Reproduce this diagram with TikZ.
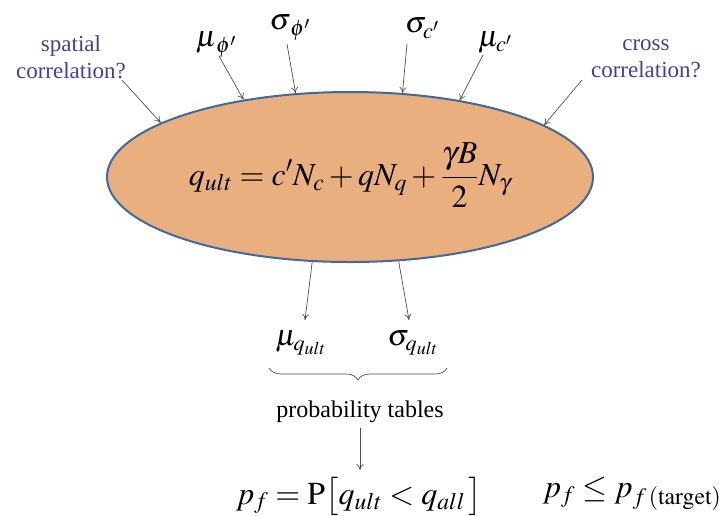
\documentclass[tikz,border=0pt]{standalone}
\usepackage{mathptmx}
\usepackage[no-math]{fontspec}
\newfontfamily\tnr{Liberation Serif}
\usetikzlibrary{shapes.geometric,arrows.meta,decorations.pathreplacing}
\definecolor{efill}{RGB}{233,175,127}
\definecolor{eline}{RGB}{65,105,156}
\definecolor{qblue}{RGB}{64,64,160}
\definecolor{arr}{RGB}{80,80,80}
\newcommand{\fs}[1]{\fontsize{#1}{#1}\selectfont}
\begin{document}
\begin{tikzpicture}[x=1pt,y=-1pt,
  conn/.style={draw=arr,line width=0.7pt,-{To[length=6pt,width=7pt]}},
  qtext/.style={text=qblue,align=center,font=\tnr\fontsize{23}{27}\selectfont,inner sep=0pt},
  glabel/.style={inner sep=0pt,font=\fs{30}}]
\useasboundingbox (0,0) rectangle (725,515);
% ellipse
\node[ellipse,draw=eline,line width=2pt,fill=efill,minimum width=486pt,minimum height=170pt,inner sep=0pt] (E) at (350,177) {};
\node[inner sep=0pt,font=\fs{32}] (F) at (350,175) {$\displaystyle q_{ult}=c'N_c+qN_q+\frac{\gamma B}{2}N_\gamma$};
% top labels
\node[qtext] (sp) at (71,57) {spatial\\correlation?};
\node[qtext] (cr) at (646,59) {cross\\correlation?};
\node[glabel] (muphi) at (216,45) {$\mu_{\,\phi'}$};
\node[glabel] (sgphi) at (290,28) {$\sigma_{\,\phi'}$};
\node[glabel] (sgc) at (422,28) {$\sigma_{c'}$};
\node[glabel] (muc) at (495,42) {$\mu_{c'}$};
% arrow starts
\coordinate (a1) at (122,80);
\coordinate (a2) at (219,56);
\coordinate (a3) at (287,44);
\coordinate (a4) at (407,44);
\coordinate (a5) at (483,55);
\coordinate (a6) at (582,80);
\draw[conn] (a1) -- (E.164.5);
\draw[conn] (a2) -- (E.144.5);
\draw[conn] (a3) -- (E.123.9);
\draw[conn] (a4) -- (E.58.6);
\draw[conn] (a5) -- (E.35);
\draw[conn] (a6) -- (E.15.4);
% bottom
\node[glabel] (muq) at (301,343) {$\mu_{q_{ult}}$};
\node[glabel] (sgq) at (413,343) {$\sigma_{q_{ult}}$};
\coordinate (b1) at (305,320);
\coordinate (b2) at (409,320);
\draw[conn] (E.246.6) -- (b1);
\draw[conn] (E.300.6) -- (b2);
\coordinate (brL) at (269,368);
\coordinate (brR) at (447,368);
\draw[arr,line width=0.7pt,decorate,decoration={brace,mirror,amplitude=12pt}] (brL) -- (brR);
\node[inner sep=0pt,font=\tnr\fs{24}] (pt) at (360,412) {probability tables};
\coordinate (c1) at (360,428);
\coordinate (c2) at (360,470);
\draw[conn] (c1) -- (c2);
\node[inner sep=0pt,font=\fs{32}] (pf) at (359,496) {$p_f=\mathrm{P}\big[q_{ult}<q_{all}\,\big]$};
\node[inner sep=0pt,font=\fs{32}] (pt2) at (632,494) {$p_f\le p_{f\,(\mathrm{target})}$};
\end{tikzpicture}
\end{document}
